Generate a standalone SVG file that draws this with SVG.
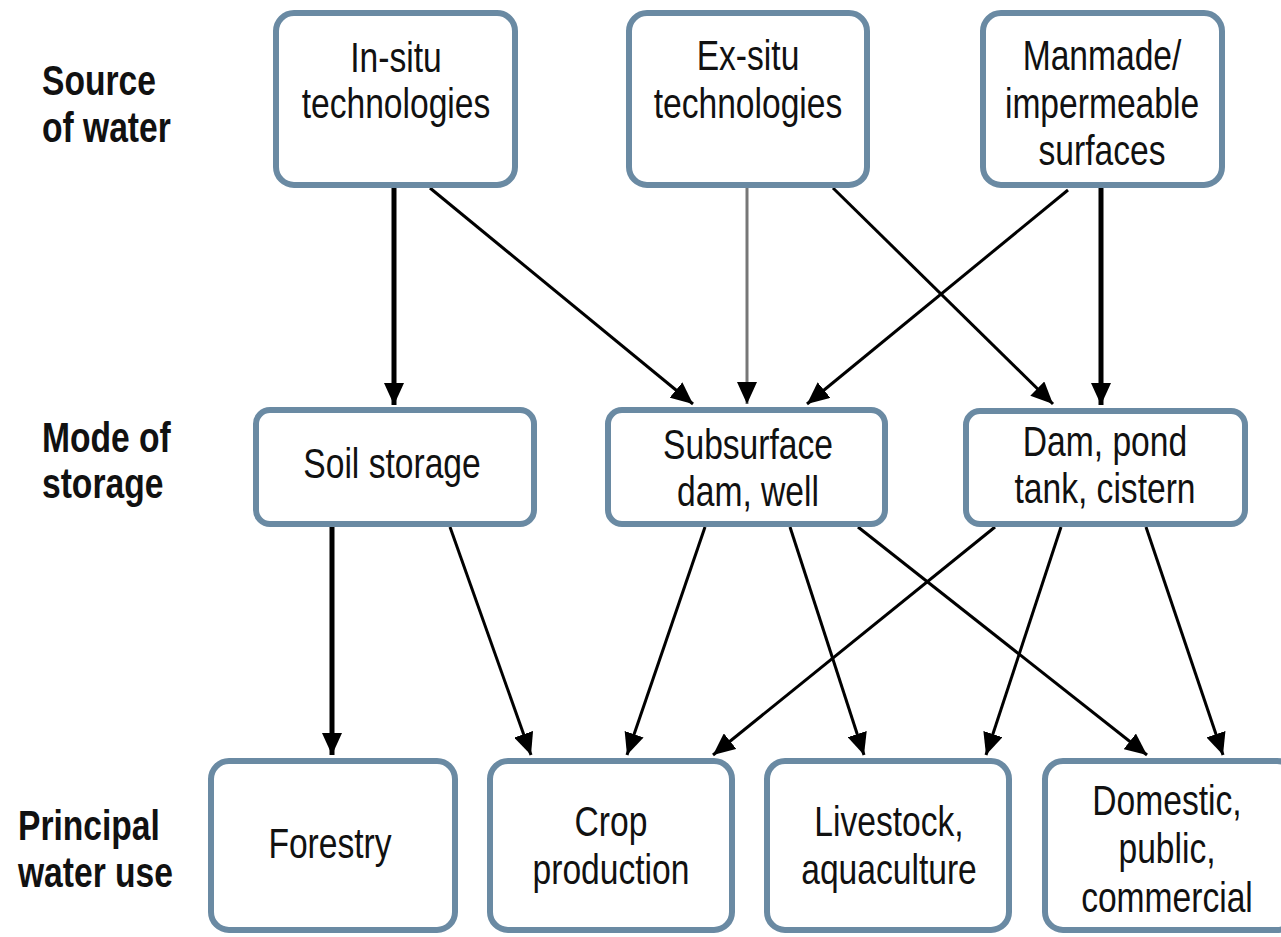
<svg xmlns="http://www.w3.org/2000/svg" width="1281" height="937" viewBox="0 0 1281 937">
<style>
.box{fill:#fff;stroke:#6a8aa3;stroke-width:6}
.t{font-family:"Liberation Sans",Arial,sans-serif;font-size:42px;fill:#111;text-anchor:middle}
.l{font-family:"Liberation Sans",Arial,sans-serif;font-size:42px;font-weight:bold;fill:#111}
.c{stroke:#000;stroke-width:3;fill:none;marker-end:url(#ah)}
.k{stroke-width:5}
.g{stroke:#777;stroke-width:3}
</style>
<defs>
<marker id="ah" markerUnits="userSpaceOnUse" markerWidth="22" markerHeight="20" refX="22" refY="10" orient="auto" viewBox="0 0 22 20">
<path d="M0,0 L22,10 L0,20 z" fill="#000"/>
</marker>
</defs>
<rect width="1281" height="937" fill="#fff"/>
<g id="labels">
<text class="l" transform="translate(42 95) scale(0.8 1)">Source</text>
<text class="l" transform="translate(42 142) scale(0.8 1)">of water</text>
<text class="l" transform="translate(42 452) scale(0.8 1)">Mode of</text>
<text class="l" transform="translate(42 498) scale(0.8 1)">storage</text>
<text class="l" transform="translate(18 840) scale(0.8 1)">Principal</text>
<text class="l" transform="translate(18 887) scale(0.8 1)">water use</text>
</g>
<g id="connectors">
<line class="c k" x1="394" y1="188" x2="394" y2="405"/>
<line class="c" x1="430" y1="188" x2="693" y2="404"/>
<line class="c g" x1="747" y1="188" x2="747" y2="404"/>
<line class="c" x1="833" y1="188" x2="1053" y2="404"/>
<line class="c" x1="1068" y1="190" x2="807" y2="404"/>
<line class="c k" x1="1101" y1="188" x2="1101" y2="405"/>
<line class="c k" x1="332" y1="527" x2="332" y2="755"/>
<line class="c" x1="450" y1="527" x2="531" y2="755"/>
<line class="c" x1="705" y1="527" x2="627" y2="755"/>
<line class="c" x1="790" y1="527" x2="864" y2="755"/>
<line class="c" x1="858" y1="527" x2="1147" y2="755"/>
<line class="c" x1="995" y1="527" x2="713" y2="755"/>
<line class="c" x1="1061" y1="527" x2="986" y2="755"/>
<line class="c" x1="1146" y1="527" x2="1223" y2="755"/>
</g>
<g id="insitu">
<rect class="box" x="276" y="13" width="239" height="172" rx="18"/>
<text class="t" transform="translate(396 72) scale(0.8 1)">In-situ</text>
<text class="t" transform="translate(396 118) scale(0.8 1)">technologies</text>
</g>
<g id="exsitu">
<rect class="box" x="629" y="13" width="238" height="172" rx="18"/>
<text class="t" transform="translate(748 70) scale(0.8 1)">Ex-situ</text>
<text class="t" transform="translate(748 118) scale(0.8 1)">technologies</text>
</g>
<g id="manmade">
<rect class="box" x="983" y="13" width="239" height="172" rx="18"/>
<text class="t" transform="translate(1102 70) scale(0.8 1)">Manmade/</text>
<text class="t" transform="translate(1102 118) scale(0.8 1)">impermeable</text>
<text class="t" transform="translate(1102 165) scale(0.8 1)">surfaces</text>
</g>
<g id="soil">
<rect class="box" x="256" y="410" width="278" height="114" rx="14"/>
<text class="t" transform="translate(392 478) scale(0.8 1)">Soil storage</text>
</g>
<g id="subsurface">
<rect class="box" x="608" y="410" width="277" height="114" rx="14"/>
<text class="t" transform="translate(748 459) scale(0.8 1)">Subsurface</text>
<text class="t" transform="translate(748 506) scale(0.8 1)">dam, well</text>
</g>
<g id="dam">
<rect class="box" x="966" y="411" width="279" height="113" rx="14"/>
<text class="t" transform="translate(1105 456) scale(0.8 1)">Dam, pond</text>
<text class="t" transform="translate(1105 503) scale(0.8 1)">tank, cistern</text>
</g>
<g id="forestry">
<rect class="box" x="211" y="761" width="244" height="169" rx="18"/>
<text class="t" transform="translate(330 858) scale(0.8 1)">Forestry</text>
</g>
<g id="crop">
<rect class="box" x="490" y="761" width="242" height="169" rx="18"/>
<text class="t" transform="translate(611 836) scale(0.8 1)">Crop</text>
<text class="t" transform="translate(611 884) scale(0.8 1)">production</text>
</g>
<g id="livestock">
<rect class="box" x="767" y="761" width="242" height="169" rx="18"/>
<text class="t" transform="translate(889 836) scale(0.8 1)">Livestock,</text>
<text class="t" transform="translate(889 884) scale(0.8 1)">aquaculture</text>
</g>
<g id="domestic">
<rect class="box" x="1045" y="761" width="250" height="169" rx="18"/>
<text class="t" transform="translate(1167 815) scale(0.8 1)">Domestic,</text>
<text class="t" transform="translate(1167 863) scale(0.8 1)">public,</text>
<text class="t" transform="translate(1167 912) scale(0.8 1)">commercial</text>
</g>
</svg>
